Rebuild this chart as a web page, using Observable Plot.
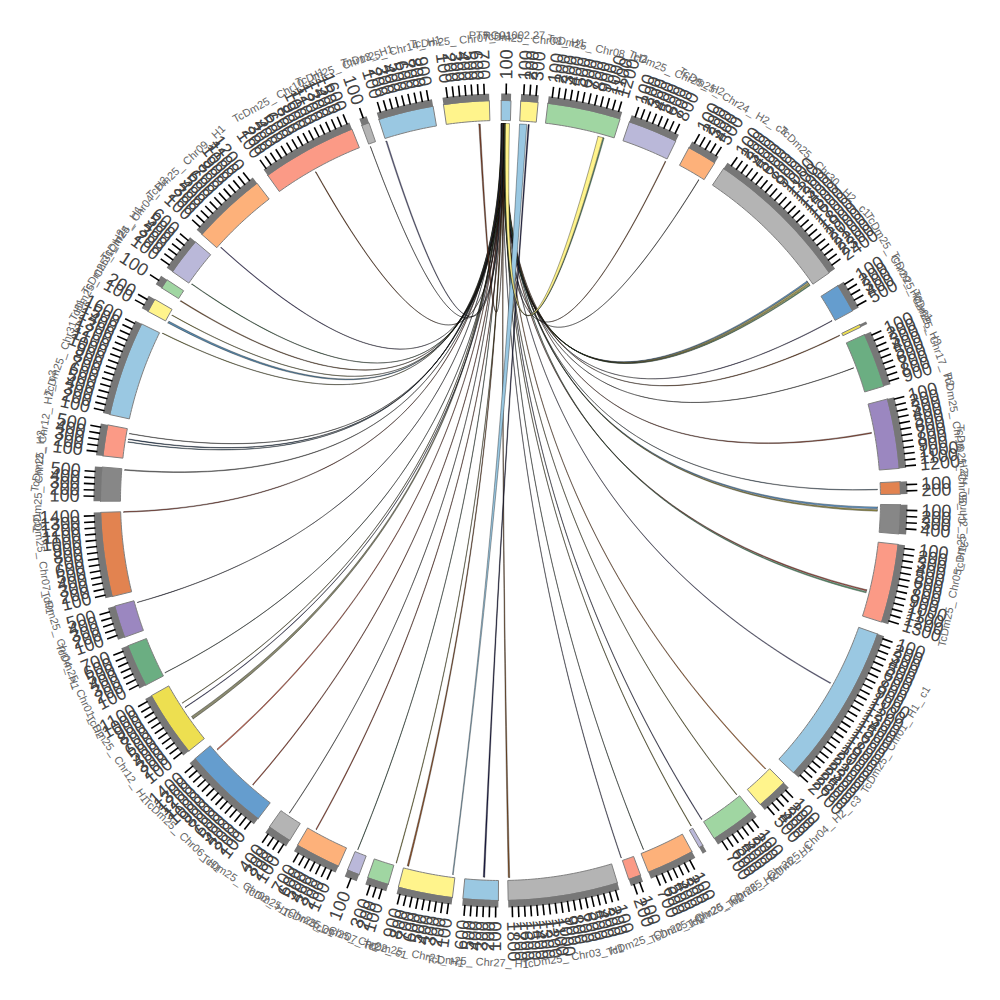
<!DOCTYPE html>
<html><head><meta charset="utf-8">
<style>html,body{margin:0;background:#fff}svg{display:block}svg text{text-rendering:geometricPrecision}</style>
<script src="https://cdn.jsdelivr.net/npm/d3@7"></script>
<script src="https://cdn.jsdelivr.net/npm/@observablehq/plot@0.6"></script>
</head><body><div id="chart"></div>
<script>
const sectorNames = ["PTRG01002.27","TcDm25_ Chr08_ H1","TcDm25_ Chr08_ H2","TcDm25_ Chr25_ H2","TcDm25_ Chr24_ H2_ c3","TcDm25_ Chr30_ H2_ c1","TcDm25_ Chr29_ H2_ c1","TcDm25_ Chr29_ H2","TcDm25_ Chr17_ H2","TcDm25_ Chr16_ H2","TcDm25_ Chr05_ H2_ c3","TcDm25_ Chr05_ H2","TcDm25_ Chr05_ H1","TcDm25_ Chr01_ H1_ c1","TcDm25_ Chr04_ H2_ c3","TcDm25_ Chr26_ H1","TcDm25_ Chr26_ H2","TcDm25_ Chr20_ H2","TcDm25_ Chr20_ H1","TcDm25_ Chr03_ H1","TcDm25_ Chr27_ H1","TcDm25_ Chr21_ H1","TcDm25_ Chr22_ c1","TcDm25_ Chr07_ H2","TcDm25_ Chr25_ c1","TcDm25_ Chr02_ H1","TcDm25_ Chr06_ H1","TcDm25_ Chr12_ H1","TcDm25_ Chr01_ H2","TcDm25_ Chr04_ H1","TcDm25_ Chr07_ H1","TcDm25_ Chr12_ H2","TcDm25_ Chr12_ H2_ c3","TcDm25_ Chr31_ H1","TcDm25_ Chr31_ H2","TcDm25_ Chr24_ H1","TcDm25_ Chr04_ H2","TcDm25_ Chr09_ H1","TcDm25_ Chr10_ H1","TcDm25_ Chr13_ H1","TcDm25_ Chr14_ H1","TcDm25_ Chr07_ H1"];
const sectorStart = [0.1,2.9,6.8,18.8,28.1,33.9,57.5,63.9,65.5,75.3,87.3,90.6,96.3,109.5,134.9,141,149.6,151.4,159.5,163,180.3,186.9,196.3,200.7,203.9,211.8,217.3,231.2,242.5,250,256.1,269.9,276.4,282.4,298.2,302.1,304.9,311.7,324.4,339.7,342.3,351.8];
const sectorEnd = [1.5,5.4,17.4,26,32.4,55.3,61.7,64.3,73.4,85.4,89.1,94.8,107.7,132.9,139.5,147.7,150.2,158.3,161.3,178.9,185.4,194.8,199.4,202.5,210.5,215.3,229.8,240.8,248.7,254.7,268.3,274.8,280.9,296.2,300.2,303.5,310.3,322.5,338.2,340.8,350.3,358.4];
const sectorTicks = [1,3,12,8,5,24,5,0,9,12,2,4,13,27,5,7,0,7,2,18,6,9,3,1,7,4,14,11,7,5,14,5,5,16,2,1,6,12,16,1,9,7];
const sectorColor = ["#9ac8e2","#fff48c","#a0d6a2","#bab8d9","#fdb17a","#b4b4b4","#659dce","#eddf50","#6bae82","#9b87c0","#e28350","#878787","#fb9a86","#9ac8e2","#fff48c","#a0d6a2","#bab8d9","#fdb17a","#fb9a86","#b4b4b4","#9ac8e2","#fff48c","#a0d6a2","#bab8d9","#fdb17a","#b4b4b4","#659dce","#eddf50","#6bae82","#9b87c0","#e28350","#878787","#fb9a86","#9ac8e2","#fff48c","#a0d6a2","#bab8d9","#fdb17a","#fb9a86","#b4b4b4","#9ac8e2","#fff48c"];
const tickStep = 0.87;

const linkTarget = [25.9,31.7,54.4,54.65,54.9,55.1,61.5,64,69.4,79.6,88.3,91.0,91.4,103.7,104.0,118.9,135.3,141.2,147.7,149.6,157.7,161.3,178.6,182.4,194.1,196,202.2,209.2,214,221,228.6,234.6,236.7,237.5,242.8,254.3,268.2,274.6,278.9,279.3,280.2,296.3,298.1,299.4,301.9,305,312.1,330.6,339.8,342.3,356.7,187.2,15.8,15.0];
const linkSpan = [0.1,0.06,0.2,0.2,0.12,0.12,0.08,0.1,0.05,0.15,0.08,0.25,0.22,0.18,0.18,0.12,0.12,0.08,0.1,0.08,0.05,0.08,0.22,0.22,0.22,0.08,0.06,0.12,0.06,0.12,0.16,0.45,0.08,0.06,0.05,0.05,0.12,0.12,0.08,0.1,0.05,0.07,0.3,0.06,0.12,0.08,0.1,0.1,0.04,0.16,0.22,0.12,0.15,0.75];
const linkTop = [0.52,0.33,0.14,0.3,0.42,0.58,0.2,0.68,0.1,0.46,0.27,0.36,0.55,0.17,0.6,0.24,0.4,0.12,0.5,0.3,0.66,0.22,0.44,4.2,0.34,0.56,0.16,0.7,0.26,0.48,0.38,0.13,0.62,0.2,0.53,0.29,0.43,0.65,0.18,0.37,0.58,0.11,0.24,0.47,0.32,0.69,0.15,0.41,0.55,0.28,0.6,2.9,0.63,0.75];
const linkTopSpan = [0.08,0.05,0.1,0.1,0.06,0.06,0.05,0.08,0.05,0.08,0.05,0.1,0.08,0.08,0.08,0.06,0.08,0.05,0.07,0.05,0.05,0.05,0.1,0.18,0.1,0.05,0.06,0.06,0.05,0.08,0.06,0.12,0.05,0.05,0.05,0.05,0.08,0.05,0.05,0.06,0.05,0.05,0.1,0.05,0.08,0.06,0.05,0.07,0.05,0.08,0.1,1.1,0.1,0.62];
const linkColor = ["#9a5a30","#555555","#659dce","#c9c27a","#eddf50","#6bae82","#6a6298","#9a5a30","#444444","#a85a45","#6b8ca8","#659dce","#a09a50","#b3584a","#6bae82","#7a78a8","#d9803f","#9a9440","#505080","#908a30","#355a45","#6a6a98","#8a5a30","#232350","#9a5a30","#a8a030","#2f6a4a","#b84a30","#707070","#b8503a","#e0705a","#8a8a70","#505090","#908a30","#355045","#404060","#a85040","#808080","#3a6a90","#2c4a70","#404040","#a0a040","#5a8cb0","#b0a840","#9a6a40","#4a8a5a","#5a5090","#8a4a20","#404040","#6a6a98","#8a4a30","#9ac8e2","#6bae82","#fff48c"];

const rad = d => d * Math.PI / 180;
const polar = (deg, r) => [r * Math.sin(rad(deg)), -r * Math.cos(rad(deg))];
const R = {link: 377, inner: 380, outer: 400, band: 407, tick: 417, label: 421, name: 462};

function arc(a, b, r) {
  const n = Math.max(2, Math.ceil(Math.abs(b - a) / 0.5) + 1);
  return d3.range(n).map(i => polar(a + (b - a) * i / (n - 1), r));
}
const bezier = (p, q) => d3.range(61).map(i => {
  const t = i / 60, u = 1 - t;
  return [u * u * p[0] + t * t * q[0], u * u * p[1] + t * t * q[1]]; // control point at the circle's centre
});

const sectorTable = sectorNames.map((name, i) => ({name, i, a: sectorStart[i], b: sectorEnd[i], fill: sectorColor[i], mid: (sectorStart[i] + sectorEnd[i]) / 2, ticks: sectorTicks[i]}));
const toRows = (id, fill, pts) => pts.map(([x, y]) => ({id, fill, x, y}));

const sectorRows = sectorTable.flatMap(s => {
  const pts = [...arc(s.a, s.b, R.outer), ...arc(s.b, s.a, R.inner)];
  pts.push(pts[0]);
  return toRows(s.i, s.fill, pts);
});
const bandRows = sectorTable.flatMap(s => toRows(s.i, "#777777", [...arc(s.a, s.b, R.band), ...arc(s.b, s.a, R.outer - 0.5)]));

const tickRows = sectorTable.flatMap(s => {
  const off = s.mid - (s.ticks - 1) * tickStep / 2;
  return d3.range(s.ticks).map(k => {
    const deg = off + k * tickStep;
    const [x1, y1] = polar(deg, R.band - 1), [x2, y2] = polar(deg, R.tick), [lx, ly] = polar(deg, R.label);
    const right = (deg % 360) < 180;
    return {x1, y1, x2, y2, lx, ly, right, rotate: right ? deg - 90 : deg + 90, text: String((k + 1) * 100)};
  });
});

const nameRows = sectorTable.map(s => {
  const [x, y] = polar(s.mid, s.i === 0 ? 465 : R.name);
  return {x, y, text: s.name, rotate: s.i === 0 ? 0 : (s.mid < 90 || s.mid > 270 ? s.mid : s.mid - 180)};
});

const linkRows = linkTarget.flatMap((a, i) => {
  const w = linkSpan[i], b = linkTop[i], wb = linkTopSpan[i];
  const pts = [
    ...arc(a, a + w, R.link),
    ...bezier(polar(a + w, R.link), polar(b, R.link)),
    ...arc(b, b + wb, R.link),
    ...bezier(polar(b + wb, R.link), polar(a, R.link))
  ];
  pts.push(pts[0]);
  return toRows(i, linkColor[i], pts);
});

const chart = Plot.plot({
  width: 1000, height: 1000, margin: 0,
  x: {domain: [-500, 500], range: [0, 1000], axis: null},
  y: {domain: [-500, 500], range: [0, 1000], axis: null},
  color: {type: "identity"},
  style: {background: "#fff", fontFamily: "Liberation Sans, Arial, sans-serif"},
  marks: [
    Plot.line(linkRows, {x: "x", y: "y", z: "id", fill: "fill", stroke: "#000", strokeWidth: 0.35}),
    Plot.line(sectorRows, {x: "x", y: "y", z: "id", fill: "fill", stroke: "#808080", strokeWidth: 1}),
    Plot.line(bandRows, {x: "x", y: "y", z: "id", fill: "fill", stroke: "none"}),
    Plot.link(tickRows, {x1: "x1", y1: "y1", x2: "x2", y2: "y2", stroke: "#000", strokeWidth: 1.6}),
    Plot.text(tickRows.filter(d => d.right), {x: "lx", y: "ly", text: "text", rotate: "rotate", textAnchor: "start", lineAnchor: "middle", fontSize: 18, fill: "#444"}),
    Plot.text(tickRows.filter(d => !d.right), {x: "lx", y: "ly", text: "text", rotate: "rotate", textAnchor: "end", lineAnchor: "middle", fontSize: 18, fill: "#444"}),
    Plot.text(nameRows, {x: "x", y: "y", text: "text", rotate: "rotate", textAnchor: "middle", lineAnchor: "middle", fontSize: 11, fill: "#666"})
  ]
});
document.getElementById("chart").append(chart);
</script></body></html>
